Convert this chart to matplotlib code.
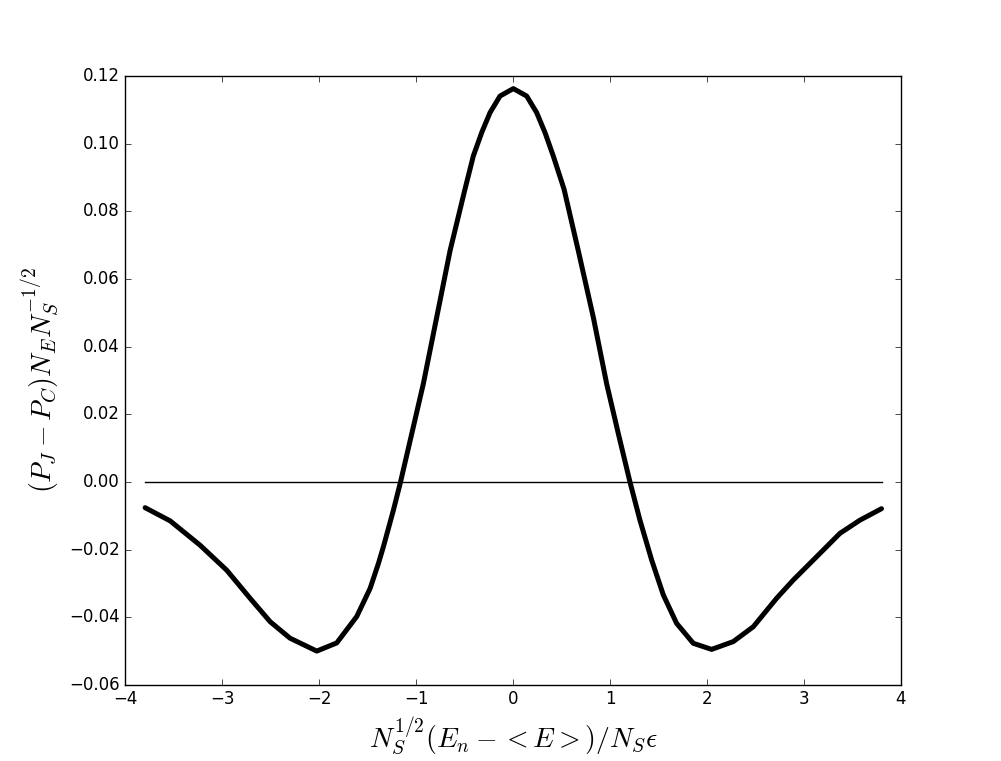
import matplotlib
matplotlib.use("Agg")
import matplotlib.pyplot as plt

# --- Data ---
x_vals = [-3.794, -3.536, -3.227, -2.952, -2.711, -2.505, -2.299, -2.024,
          -1.818, -1.612, -1.474, -1.388, -1.337, -1.234, -1.160, -1.044,
          -0.925, -0.787, -0.649, -0.495, -0.409, -0.323, -0.237, -0.134,
          0.003, 0.141, 0.244, 0.330, 0.415, 0.526, 0.673, 0.828,
          0.966, 1.086, 1.206, 1.309, 1.430, 1.550, 1.687, 1.859,
          2.048, 2.271, 2.478, 2.718, 2.890, 3.131, 3.371, 3.577, 3.800]
y_vals = [-0.0076, -0.0115, -0.0187, -0.0261, -0.0344, -0.0413, -0.0462, -0.0500,
          -0.0476, -0.0398, -0.0315, -0.0241, -0.0192, -0.0084, 0.0000, 0.0143,
          0.0290, 0.0487, 0.0684, 0.0866, 0.0964, 0.1033, 0.1092, 0.1141,
          0.1163, 0.1141, 0.1092, 0.1033, 0.0964, 0.0866, 0.0684, 0.0487,
          0.0290, 0.0143, 0.0000, -0.0113, -0.0231, -0.0334, -0.0418, -0.0477,
          -0.0495, -0.0472, -0.0428, -0.0344, -0.0290, -0.0221, -0.0152, -0.0113, -0.0079]
zero_x = [-3.8, 3.8]
zero_y = [0.0, 0.0]

plt.style.use("classic")
fig = plt.figure(figsize=(10.01, 7.61), dpi=100, facecolor="white")
ax = fig.add_subplot(111)

ax.plot(zero_x, zero_y, color="k", lw=1)
# dense black dots in the original -> thick round-joined line
ax.plot(x_vals, y_vals, color="k", lw=3.6, solid_capstyle="round",
        solid_joinstyle="round")

ax.set_xlim(-4, 4)
ax.set_ylim(-0.06, 0.12)
ax.set_xticks([-4, -3, -2, -1, 0, 1, 2, 3, 4])
ax.set_yticks([-0.06, -0.04, -0.02, 0.0, 0.02, 0.04, 0.06, 0.08, 0.10, 0.12])
ax.set_yticklabels(["\u22120.06", "\u22120.04", "\u22120.02", "0.00", "0.02",
                    "0.04", "0.06", "0.08", "0.10", "0.12"])
ax.set_xticklabels(["\u22124", "\u22123", "\u22122", "\u22121", "0", "1", "2", "3", "4"])

ax.set_xlabel(r"$N_S^{1/2}(E_n-<E>)/N_S\epsilon$", fontsize=20)
ax.set_ylabel(r"$(P_J-P_C)N_E N_S^{-1/2}$", fontsize=20)

fig.subplots_adjust(left=0.125, right=0.9, bottom=0.1, top=0.9)
fig.savefig("out.png", dpi=100, facecolor="white")
